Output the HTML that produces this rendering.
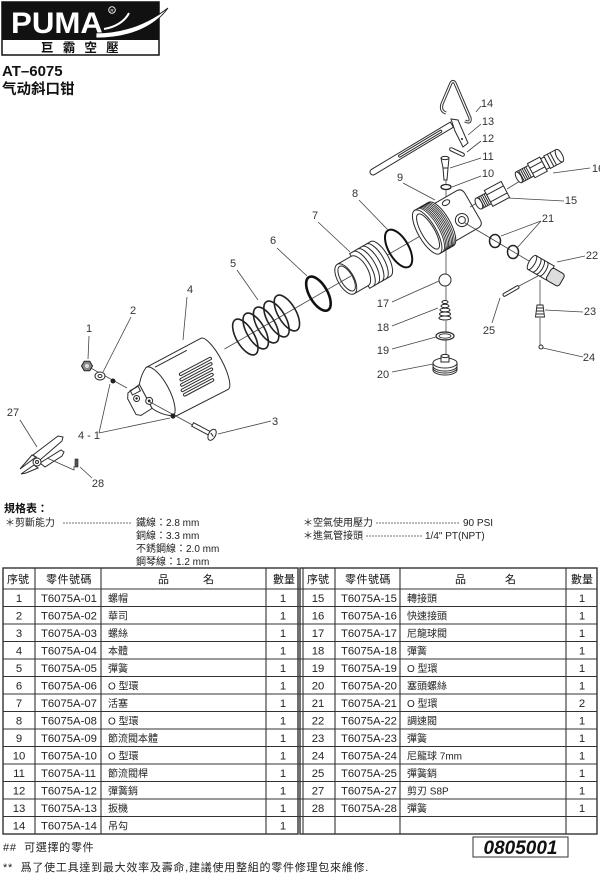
<!DOCTYPE html>
<html><head><meta charset="utf-8">
<style>
html,body{margin:0;padding:0;background:#fff;}
svg{display:block;}
.t{font-family:"Liberation Sans","Noto Sans CJK TC",sans-serif;}
.sc{font-family:"Liberation Sans","Noto Sans CJK SC",sans-serif;}
.n{font-family:"Liberation Sans",sans-serif;font-size:11px;fill:#333;text-anchor:middle;}
.ld{stroke:#444;stroke-width:0.8;fill:none;}
.p{stroke:#2a2a2a;stroke-width:1;fill:#fff;}
.pn{stroke:#2a2a2a;stroke-width:1;fill:none;}
.th{font-family:"Liberation Sans","Noto Sans CJK TC",sans-serif;font-size:11px;fill:#111;}
.c{text-anchor:middle;}
.pnum{font-family:"Liberation Sans",sans-serif;font-size:11.3px;fill:#222;}
.nm{font-family:"Liberation Sans","Noto Sans CJK TC",sans-serif;font-size:10px;fill:#222;white-space:pre;}
.sp{font-family:"Liberation Sans","Noto Sans CJK TC",sans-serif;font-size:10px;fill:#222;white-space:pre;}
</style></head><body>
<svg width="600" height="880" viewBox="0 0 600 880" xmlns="http://www.w3.org/2000/svg">
<!-- LOGO -->
<rect x="2" y="2" width="157" height="53" fill="#fff" stroke="#111" stroke-width="1.5"/>
<rect x="2" y="2" width="157" height="38" fill="#111"/>
<text x="11" y="33" class="t" font-size="30" font-weight="bold" fill="#fff" textLength="92" lengthAdjust="spacingAndGlyphs">PUMA</text>
<path d="M96,33 C122,33 146,25 168,8 C153,29 126,38 96,38 Z" fill="#fff" stroke="#111" stroke-width="0.8"/>
<path d="M104,29 C116,27 125,21 129,13" stroke="#fff" stroke-width="2" fill="none"/>
<circle cx="112" cy="10" r="3.3" fill="none" stroke="#fff" stroke-width="0.9"/>
<text x="112" y="12" font-family="Liberation Sans" font-size="4.5" fill="#fff" text-anchor="middle">R</text>
<text x="41" y="52" class="t" font-size="12.5" font-weight="bold" fill="#111" letter-spacing="9.2">巨霸空壓</text>
<text x="2" y="76" class="t" font-size="15" font-weight="bold" fill="#111">AT–6075</text>
<text x="2" y="94" class="sc" font-size="14.5" font-weight="bold" fill="#111">气动斜口钳</text>

<!-- DIAGRAM -->
<!-- hanger 14 -->
<path d="M446,113 Q440,111 442,104 L451,83 Q453,80 455,83 L470,118 Q471,124 465,121" fill="none" stroke="#333" stroke-width="3.2"/>
<path d="M446,113 Q440,111 442,104 L451,83 Q453,80 455,83 L470,118 Q471,124 465,121" fill="none" stroke="#fff" stroke-width="1.2"/>
<!-- lever 13 -->
<g transform="translate(373,172) rotate(-31)">
<path class="p" d="M0,-3 L92,-3 L92,3 L0,3 A3,3 0 0 1 0,-3 Z"/>
<rect x="30" y="-1.1" width="50" height="2.2" rx="1.1" class="pn" stroke-width="0.8"/>
</g>
<polygon class="p" points="451,119 458,120 468,143 463,147 455,131"/>
<circle cx="462" cy="139" r="1" fill="#222"/>
<!-- pin 12 -->
<g transform="translate(457,152) rotate(25)"><rect x="-8" y="-1.6" width="16" height="3.2" rx="1.6" class="p"/></g>
<!-- stem 11 -->
<path class="p" d="M441,158 L449,158 L448,168 L447,180 L444,180 L443,168 Z"/>
<ellipse cx="445" cy="158" rx="4" ry="1.6" class="p"/>
<line x1="443" y1="168" x2="448" y2="168" class="pn" stroke-width="0.7"/>
<!-- ring 10 -->
<ellipse cx="446" cy="187" rx="5" ry="2.5" fill="none" stroke="#222" stroke-width="1.3"/>
<line x1="446" y1="190" x2="446" y2="200" class="ld"/>
<line x1="446" y1="180" x2="446" y2="184" class="ld"/>

<!-- main axis group -->
<g transform="translate(228,347) rotate(-30)">
<line x1="-4" y1="0" x2="232" y2="0" class="ld"/>
<g fill="none" stroke="#222" stroke-width="1.6">
<ellipse cx="20" cy="0" rx="9" ry="20"/>
<ellipse cx="32" cy="0" rx="9" ry="20"/>
<ellipse cx="44" cy="0" rx="9" ry="20"/>
<ellipse cx="56" cy="0" rx="9" ry="20"/>
<ellipse cx="68" cy="0" rx="9" ry="20"/>
</g>
<ellipse cx="105" cy="-1" rx="9" ry="19" fill="none" stroke="#111" stroke-width="2.6"/>
<path class="p" d="M136,-17 L152,-17 L152,-20 L176,-20 A8,20 0 0 1 176,20 L152,20 L152,17 L136,17 Z"/>
<path class="pn" stroke-width="0.9" d="M156,-20 A8 20 0 0 1 156,20 M161,-20 A8 20 0 0 1 161,20 M166,-20 A8 20 0 0 1 166,20 M171,-20 A8 20 0 0 1 171,20 M152,-17 A8 17 0 0 1 152,17"/>
<ellipse cx="136" cy="0" rx="8" ry="17" class="p"/>
<ellipse cx="137" cy="0" rx="6" ry="14" class="pn" stroke-width="0.8"/>
<line x1="129" y1="0" x2="142" y2="0" class="ld"/>
<ellipse cx="197" cy="0" rx="10" ry="21" fill="none" stroke="#111" stroke-width="2"/>
<g transform="translate(230,0)">
<path class="p" d="M12,-21 L46,-21 Q52,-21 52,-14 L52,16 Q52,22 46,22 L12,22 Z"/>
<path class="p" d="M0,-25 L16,-25 A9,25 0 0 1 16,25 L0,25 Z"/>
<path fill="none" stroke="#222" stroke-width="0.8" d="M3,-25 A9 25 0 0 1 3,25 M4.6,-25 A9 25 0 0 1 4.6,25 M6.2,-25 A9 25 0 0 1 6.2,25 M7.8,-25 A9 25 0 0 1 7.8,25 M9.4,-25 A9 25 0 0 1 9.4,25 M11,-25 A9 25 0 0 1 11,25 M12.6,-25 A9 25 0 0 1 12.6,25 M14.2,-25 A9 25 0 0 1 14.2,25"/>
<ellipse cx="0" cy="0" rx="9" ry="25" class="p"/>
<ellipse cx="1" cy="0" rx="6.5" ry="20" class="pn"/>
<circle cx="36" cy="7" r="6.5" class="p"/>
<circle cx="36" cy="7" r="3.5" class="pn"/>
<ellipse cx="31" cy="-16" rx="4" ry="2.5" class="pn"/>
</g>
</g>

<!-- body 4 -->
<g transform="translate(218,362) rotate(-28)">
<path class="p" d="M-66,-29 L-4,-29 A8,29 0 0 1 -4,29 L-62,28 Q-74,22 -80,10 L-80,-17 Q-74,-25 -66,-29 Z"/>
<path class="p" d="M-80,-17 L-94,-15 L-97,-10 L-97,8 L-93,11 L-80,10 Z"/>
<rect x="-91" y="-16" width="9" height="5" class="pn" stroke-width="0.8"/>
<path class="pn" d="M-66,-29 A10,28 0 0 1 -66,27"/>
<path class="pn" d="M-58,-25 L-22,-25"/>
<g class="pn" stroke-width="0.9">
<rect x="-40" y="-8" width="36" height="2.6" rx="1.3"/>
<rect x="-42" y="-3" width="36" height="2.6" rx="1.3"/>
<rect x="-44" y="2" width="36" height="2.6" rx="1.3"/>
<rect x="-46" y="7" width="36" height="2.6" rx="1.3"/>
<rect x="-46" y="12" width="34" height="2.6" rx="1.3"/>
</g>
<circle cx="-89" cy="-6" r="3" class="p"/><circle cx="-89" cy="-6" r="1.2" fill="#222"/>
<circle cx="-79" cy="2" r="3.5" class="p"/><circle cx="-79" cy="2" r="1.4" fill="#222"/>
</g>

<!-- pivot parts -->
<line x1="87" y1="366" x2="127" y2="388" class="ld"/>
<line x1="150" y1="402" x2="198" y2="428" class="ld"/>
<polygon points="92.5,366 89.75,370.8 84.25,370.8 81.5,366 84.25,361.2 89.75,361.2" fill="#888" stroke="#222" stroke-width="1"/>
<circle cx="87" cy="366" r="2" fill="#ddd"/>
<ellipse cx="100" cy="376" rx="5" ry="4" class="p" stroke-width="1.2"/>
<ellipse cx="100" cy="376" rx="2" ry="1.5" class="pn"/>
<circle cx="113" cy="381" r="2.5" fill="#222"/>
<circle cx="173" cy="416" r="2.6" fill="#222"/>
<g transform="translate(205,431) rotate(28)">
<rect x="-14" y="-2" width="20" height="4" class="p"/>
<ellipse cx="8" cy="0" rx="3.5" ry="6" class="p"/>
<line x1="6" y1="-1" x2="10" y2="1" class="pn"/>
</g>

<!-- cutter 27 / pin 28 -->
<polygon class="p" points="33,455 58,436 63,437 62,441 40,460"/>
<polygon class="p" points="40,463 61,450 64,452 62,456 45,467"/>
<polygon class="p" points="20,469 32,455 36,457 24,466"/>
<polygon class="p" points="21,474 34,465 38,468 26,473"/>
<circle cx="37" cy="462" r="4" class="p"/>
<circle cx="37" cy="462" r="1.5" class="pn"/>
<path class="ld" d="M47,458 L74,470 L74,466"/>
<rect x="75" y="459" width="3" height="8" fill="#555" stroke="#222" stroke-width="0.6"/>

<!-- fitting 15 -->
<line x1="470" y1="207" x2="480" y2="201" class="ld"/>
<g transform="translate(493,196) rotate(-28)">
<rect x="-16" y="-6" width="11" height="12" class="p"/>
<path class="pn" stroke-width="0.7" d="M-13,-6 L-13,6 M-11,-6 L-11,6 M-9,-6 L-9,6 M-7,-6 L-7,6"/>
<ellipse cx="-16" cy="0" rx="3" ry="6" class="p"/>
<rect x="-5" y="-9" width="19" height="18" class="p"/>
<path class="pn" d="M-5,-4 L14,-4 M-5,4 L14,4"/>
</g>
<line x1="507" y1="189" x2="520" y2="181" class="ld"/>
<!-- coupler 16 -->
<g transform="translate(540,166) rotate(-28)">
<rect x="-24" y="-6" width="14" height="12" class="p"/>
<path class="pn" stroke-width="0.7" d="M-21,-6 L-21,6 M-19,-6 L-19,6 M-17,-6 L-17,6 M-15,-6 L-15,6 M-13,-6 L-13,6"/>
<ellipse cx="-24" cy="0" rx="2.5" ry="6" class="p"/>
<rect x="-10" y="-8" width="14" height="16" class="p"/>
<path class="pn" d="M-10,-3 L4,-3 M-10,3 L4,3"/>
<rect x="4" y="-6" width="4" height="12" class="p"/>
<rect x="8" y="-7" width="14" height="14" class="p"/>
<path class="pn" stroke-width="0.7" d="M12,-7 L12,7 M15,-7 L15,7"/>
<ellipse cx="22" cy="0" rx="3" ry="7" class="p"/>
</g>

<!-- 21 / 22 axis -->
<line x1="465" y1="223" x2="534" y2="264" class="ld"/>
<ellipse cx="495" cy="241" rx="5.5" ry="6.5" fill="none" stroke="#222" stroke-width="1.5"/>
<ellipse cx="513" cy="252" rx="5.5" ry="6.5" fill="none" stroke="#222" stroke-width="1.5"/>
<g transform="translate(545,270) rotate(30)">
<rect x="-15" y="-8" width="21" height="16" class="p"/>
<path class="pn" stroke-width="0.8" d="M-10,-8 A3 8 0 0 1 -10,8 M-6,-8 A3 8 0 0 1 -6,8 M-2,-8 A3 8 0 0 1 -2,8"/>
<ellipse cx="-15" cy="0" rx="3" ry="8" class="p"/>
<rect x="5" y="-6" width="15" height="14" rx="3" fill="#ddd" stroke="#222" stroke-width="1"/>
</g>
<line x1="538" y1="276" x2="519" y2="286" class="ld"/>
<line x1="540" y1="280" x2="540" y2="305" class="ld"/>
<line x1="540" y1="318" x2="540" y2="345" class="ld"/>
<!-- spring 23 -->
<path d="M537,305 L543,305 L544.5,317 L535.5,317 Z" fill="#fff" stroke="#222" stroke-width="0.9"/>
<path class="pn" stroke-width="0.8" d="M537,308 L543.5,308 M536.5,311 L544,311 M536,314 L544.3,314"/>
<!-- ball 24 -->
<circle cx="541" cy="347" r="2" class="p"/>
<!-- pin 25 -->
<g transform="translate(511,291) rotate(-30)"><rect x="-9" y="-1.5" width="18" height="3" rx="1.5" class="p"/></g>

<!-- vertical column 17-20 -->
<line x1="446" y1="246" x2="446" y2="274" class="ld"/>
<circle cx="445" cy="280" r="6" class="p"/>
<line x1="446" y1="286" x2="446" y2="300" class="ld"/>
<g fill="#fff" stroke="#222" stroke-width="1">
<ellipse cx="445" cy="302" rx="3" ry="1.5"/>
<ellipse cx="445" cy="306" rx="4" ry="1.7"/>
<ellipse cx="445" cy="310" rx="5" ry="1.9"/>
<ellipse cx="445" cy="314" rx="5.5" ry="2"/>
<ellipse cx="445" cy="318" rx="6" ry="2"/>
</g>
<line x1="446" y1="321" x2="446" y2="332" class="ld"/>
<ellipse cx="445" cy="336" rx="9" ry="4" fill="none" stroke="#222" stroke-width="1.2"/>
<ellipse cx="445" cy="336" rx="6" ry="2.2" fill="none" stroke="#222" stroke-width="0.8"/>
<line x1="446" y1="340" x2="446" y2="354" class="ld"/>
<path class="p" d="M433,363 L433,370 A12,5 0 0 0 457,370 L457,363 Z"/>
<path class="pn" stroke-width="0.7" d="M433,366 A12,5 0 0 0 457,366 M433,368 A12,5 0 0 0 457,368"/>
<ellipse cx="445" cy="363" rx="12" ry="5" class="p"/>
<path class="p" d="M441,356 L441,362 L449,362 L449,356 Z"/>
<ellipse cx="445" cy="356" rx="4" ry="1.6" class="p"/>

<!-- leader lines -->
<g class="ld">
<line x1="89" y1="336" x2="88" y2="359"/>
<line x1="131" y1="317" x2="103" y2="372"/>
<line x1="187" y1="297" x2="183" y2="340"/>
<line x1="237" y1="270" x2="258" y2="300"/>
<line x1="277" y1="248" x2="307" y2="276"/>
<line x1="318" y1="222" x2="350" y2="252"/>
<line x1="359" y1="200" x2="388" y2="230"/>
<line x1="403" y1="183" x2="435" y2="200"/>
<line x1="452" y1="187" x2="481" y2="176"/>
<line x1="450" y1="168" x2="481" y2="158"/>
<line x1="467" y1="152" x2="481" y2="141"/>
<line x1="468" y1="135" x2="481" y2="124"/>
<line x1="476" y1="112" x2="481" y2="106"/>
<line x1="508" y1="198" x2="564" y2="201"/>
<line x1="553" y1="173" x2="590" y2="168"/>
<line x1="541" y1="221" x2="501" y2="236"/>
<line x1="541" y1="221" x2="517" y2="248"/>
<line x1="557" y1="262" x2="585" y2="256"/>
<line x1="545" y1="310" x2="583" y2="312"/>
<line x1="543" y1="348" x2="583" y2="357"/>
<line x1="500" y1="298" x2="492" y2="323"/>
<line x1="392" y1="302" x2="439" y2="281"/>
<line x1="392" y1="326" x2="438" y2="308"/>
<line x1="392" y1="349" x2="436" y2="337"/>
<line x1="392" y1="372" x2="433" y2="364"/>
<line x1="271" y1="421" x2="218" y2="434"/>
<line x1="99" y1="433" x2="110" y2="384"/>
<line x1="99" y1="433" x2="170" y2="418"/>
<line x1="20" y1="420" x2="37" y2="447"/>
<line x1="92" y1="478" x2="80" y2="467"/>
</g>
<!-- labels -->
<g>
<text class="n" x="89" y="332">1</text>
<text class="n" x="133" y="314">2</text>
<text class="n" x="190" y="293">4</text>
<text class="n" x="233" y="267">5</text>
<text class="n" x="273" y="244">6</text>
<text class="n" x="315" y="219">7</text>
<text class="n" x="355" y="197">8</text>
<text class="n" x="400" y="181">9</text>
<text class="n" x="488" y="177">10</text>
<text class="n" x="488" y="160">11</text>
<text class="n" x="488" y="142">12</text>
<text class="n" x="488" y="125">13</text>
<text class="n" x="487" y="107">14</text>
<text class="n" x="571" y="204">15</text>
<text class="n" x="598" y="172">16</text>
<text class="n" x="548" y="222">21</text>
<text class="n" x="592" y="259">22</text>
<text class="n" x="590" y="315">23</text>
<text class="n" x="589" y="361">24</text>
<text class="n" x="489" y="334">25</text>
<text class="n" x="383" y="307">17</text>
<text class="n" x="383" y="331">18</text>
<text class="n" x="383" y="354">19</text>
<text class="n" x="383" y="378">20</text>
<text class="n" x="275" y="425">3</text>
<text class="n" x="89" y="439" style="white-space:pre">4 - 1</text>
<text class="n" x="13" y="416">27</text>
<text class="n" x="98" y="487">28</text>
</g>

<!-- SPECS -->
<text x="4" y="512" class="t" font-size="11" font-weight="bold" fill="#111">規格表：</text>
<text x="5" y="526" class="sp">＊剪斷能力</text>
<line x1="63" y1="523" x2="131" y2="523" stroke="#444" stroke-width="0.8" stroke-dasharray="2,1"/>
<text x="136" y="526" class="sp">鐵線：2.8 mm</text>
<text x="136" y="539" class="sp">銅線：3.3 mm</text>
<text x="136" y="552" class="sp">不銹鋼線：2.0 mm</text>
<text x="136" y="565" class="sp">鋼琴線：1.2 mm</text>
<text x="303" y="526" class="sp">＊空氣使用壓力</text>
<line x1="376" y1="523" x2="460" y2="523" stroke="#444" stroke-width="0.8" stroke-dasharray="2,1"/>
<text x="463" y="526" class="sp">90 PSI</text>
<text x="303" y="539" class="sp">＊進氣管接頭</text>
<line x1="366" y1="536" x2="423" y2="536" stroke="#444" stroke-width="0.8" stroke-dasharray="2,1"/>
<text x="425" y="539" class="sp">1/4" PT(NPT)</text>

<!-- TABLE GRID -->
<g stroke="#333" stroke-width="1.1" fill="none">
<rect x="3" y="568" width="295" height="266" stroke-width="1.4"/>
<rect x="300" y="568" width="297" height="266" stroke-width="1.4"/>
<line x1="303" y1="568" x2="303" y2="834"/>
<line x1="35" y1="568" x2="35" y2="834"/>
<line x1="101" y1="568" x2="101" y2="834"/>
<line x1="266" y1="568" x2="266" y2="834"/>
<line x1="335" y1="568" x2="335" y2="834"/>
<line x1="400" y1="568" x2="400" y2="834"/>
<line x1="566" y1="568" x2="566" y2="834"/>
<path d="M3,589 H597 M3,606.5 H597 M3,624 H597 M3,641.5 H597 M3,659 H597 M3,676.5 H597 M3,694 H597 M3,711.5 H597 M3,729 H597 M3,746.5 H597 M3,764 H597 M3,781.5 H597 M3,799 H597 M3,816.5 H597"/>
</g>
<!-- headers -->
<text class="th" x="7" y="583">序號</text>
<text class="th" x="46" y="583" letter-spacing="0.5">零件號碼</text>
<text class="th" x="158" y="583">品</text>
<text class="th" x="203" y="583">名</text>
<text class="th" x="273" y="583">數量</text>
<text class="th" x="307" y="583">序號</text>
<text class="th" x="345" y="583" letter-spacing="0.5">零件號碼</text>
<text class="th" x="455" y="583">品</text>
<text class="th" x="505" y="583">名</text>
<text class="th" x="571" y="583">數量</text>

<!-- left rows -->
<g class="pnum">
<text x="19" y="602" class="c">1</text><text x="41" y="602">T6075A-01</text><text x="283" y="602" class="c">1</text>
<text x="19" y="619.5" class="c">2</text><text x="41" y="619.5">T6075A-02</text><text x="283" y="619.5" class="c">1</text>
<text x="19" y="637" class="c">3</text><text x="41" y="637">T6075A-03</text><text x="283" y="637" class="c">1</text>
<text x="19" y="654.5" class="c">4</text><text x="41" y="654.5">T6075A-04</text><text x="283" y="654.5" class="c">1</text>
<text x="19" y="672" class="c">5</text><text x="41" y="672">T6075A-05</text><text x="283" y="672" class="c">1</text>
<text x="19" y="689.5" class="c">6</text><text x="41" y="689.5">T6075A-06</text><text x="283" y="689.5" class="c">1</text>
<text x="19" y="707" class="c">7</text><text x="41" y="707">T6075A-07</text><text x="283" y="707" class="c">1</text>
<text x="19" y="724.5" class="c">8</text><text x="41" y="724.5">T6075A-08</text><text x="283" y="724.5" class="c">1</text>
<text x="19" y="742" class="c">9</text><text x="41" y="742">T6075A-09</text><text x="283" y="742" class="c">1</text>
<text x="19" y="759.5" class="c">10</text><text x="41" y="759.5">T6075A-10</text><text x="283" y="759.5" class="c">1</text>
<text x="19" y="777" class="c">11</text><text x="41" y="777">T6075A-11</text><text x="283" y="777" class="c">1</text>
<text x="19" y="794.5" class="c">12</text><text x="41" y="794.5">T6075A-12</text><text x="283" y="794.5" class="c">1</text>
<text x="19" y="812" class="c">13</text><text x="41" y="812">T6075A-13</text><text x="283" y="812" class="c">1</text>
<text x="19" y="829.5" class="c">14</text><text x="41" y="829.5">T6075A-14</text><text x="283" y="829.5" class="c">1</text>
</g>
<g class="nm">
<text x="108" y="602">螺帽</text>
<text x="108" y="619.5">華司</text>
<text x="108" y="637">螺絲</text>
<text x="108" y="654.5">本體</text>
<text x="108" y="672">彈簧</text>
<text x="108" y="689.5">O 型環</text>
<text x="108" y="707">活塞</text>
<text x="108" y="724.5">O 型環</text>
<text x="108" y="742">節流閥本體</text>
<text x="108" y="759.5">O 型環</text>
<text x="108" y="777">節流閥桿</text>
<text x="108" y="794.5">彈簧銷</text>
<text x="108" y="812">扳機</text>
<text x="108" y="829.5">吊勾</text>
</g>
<!-- right rows -->
<g class="pnum">
<text x="318" y="602" class="c">15</text><text x="341" y="602">T6075A-15</text><text x="582" y="602" class="c">1</text>
<text x="318" y="619.5" class="c">16</text><text x="341" y="619.5">T6075A-16</text><text x="582" y="619.5" class="c">1</text>
<text x="318" y="637" class="c">17</text><text x="341" y="637">T6075A-17</text><text x="582" y="637" class="c">1</text>
<text x="318" y="654.5" class="c">18</text><text x="341" y="654.5">T6075A-18</text><text x="582" y="654.5" class="c">1</text>
<text x="318" y="672" class="c">19</text><text x="341" y="672">T6075A-19</text><text x="582" y="672" class="c">1</text>
<text x="318" y="689.5" class="c">20</text><text x="341" y="689.5">T6075A-20</text><text x="582" y="689.5" class="c">1</text>
<text x="318" y="707" class="c">21</text><text x="341" y="707">T6075A-21</text><text x="582" y="707" class="c">2</text>
<text x="318" y="724.5" class="c">22</text><text x="341" y="724.5">T6075A-22</text><text x="582" y="724.5" class="c">1</text>
<text x="318" y="742" class="c">23</text><text x="341" y="742">T6075A-23</text><text x="582" y="742" class="c">1</text>
<text x="318" y="759.5" class="c">24</text><text x="341" y="759.5">T6075A-24</text><text x="582" y="759.5" class="c">1</text>
<text x="318" y="777" class="c">25</text><text x="341" y="777">T6075A-25</text><text x="582" y="777" class="c">1</text>
<text x="318" y="794.5" class="c">27</text><text x="341" y="794.5">T6075A-27</text><text x="582" y="794.5" class="c">1</text>
<text x="318" y="812" class="c">28</text><text x="341" y="812">T6075A-28</text><text x="582" y="812" class="c">1</text>
</g>
<g class="nm">
<text x="407" y="602">轉接頭</text>
<text x="407" y="619.5">快速接頭</text>
<text x="407" y="637">尼龍球閥</text>
<text x="407" y="654.5">彈簧</text>
<text x="407" y="672">O 型環</text>
<text x="407" y="689.5">塞頭螺絲</text>
<text x="407" y="707">O 型環</text>
<text x="407" y="724.5">調速閥</text>
<text x="407" y="742">彈簧</text>
<text x="407" y="759.5">尼龍球  7mm</text>
<text x="407" y="777">彈簧銷</text>
<text x="407" y="794.5">剪刃  S8P</text>
<text x="407" y="812">彈簧</text>
</g>

<!-- FOOTER -->
<rect x="473" y="837" width="95" height="20" fill="#fff" stroke="#333" stroke-width="1"/>
<text x="520.5" y="854" font-family="Liberation Sans" font-size="19" font-weight="bold" font-style="italic" fill="#111" text-anchor="middle">0805001</text>
<text x="3" y="851" class="t" font-size="11" fill="#222" letter-spacing="0.7" style="white-space:pre">##  可選擇的零件</text>
<text x="3" y="871" class="t" font-size="11" fill="#222" letter-spacing="0.75" style="white-space:pre">**  爲了使工具達到最大效率及壽命,建議使用整組的零件修理包來維修.</text>
</svg>
</body></html>
